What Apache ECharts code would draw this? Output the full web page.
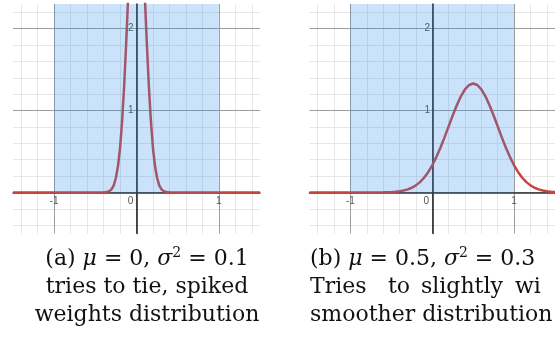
<!DOCTYPE html>
<html><head><meta charset="utf-8">
<script src="https://cdn.jsdelivr.net/npm/echarts@6/dist/echarts.min.js"></script>
<style>html,body{margin:0;padding:0;background:#fff}#c{width:555px;height:342px}</style>
</head><body><div id="c"></div>
<script>
// ---- axis ranges & tick labels ----
const xRange = [-1.5, 1.5];
const yRange = [-0.5, 2.3];
const xTickLabels = [-1, 0, 1];
const yTickLabels = [1, 2];
const xMajor = [-1, 0, 1];
const yMajor = [0, 1, 2];
const xMinor = [-1.4, -1.2, -0.8, -0.6, -0.4, -0.2, 0.2, 0.4, 0.6, 0.8, 1.2, 1.4];
const yMinor = [-0.4, -0.2, 0.2, 0.4, 0.6, 0.8, 1.2, 1.4, 1.6, 1.8, 2.2];

// ---- shaded interval (blue band) ----
const shadeX = [-1, 1];
const shadeY = [2.3, 2.3];

// ---- panel (a): mu = 0, spiked curve ----
const xA = [-1.5, -1.0, -0.5, -0.4, -0.375, -0.35, -0.325, -0.3, -0.275, -0.25, -0.225, -0.2, -0.175, -0.15, -0.125, -0.1, -0.075, -0.05, -0.025, 0,
            0.025, 0.05, 0.075, 0.1, 0.125, 0.15, 0.175, 0.2, 0.225, 0.25, 0.275, 0.3, 0.325, 0.35, 0.375, 0.4, 0.5, 1.0, 1.5];
const yA = [0, 0, 0, 0.002, 0.004, 0.009, 0.02, 0.045, 0.09, 0.18, 0.32, 0.54, 0.87, 1.3, 1.83, 2.42, 3.02, 3.52, 3.87, 3.99,
            3.87, 3.52, 3.02, 2.42, 1.83, 1.3, 0.87, 0.54, 0.32, 0.18, 0.09, 0.045, 0.02, 0.009, 0.004, 0.002, 0, 0, 0];

// ---- panel (b): mu = 0.5, smoother curve ----
const xB = [-1.5, -1.0, -0.6, -0.5, -0.45, -0.4, -0.35, -0.3, -0.25, -0.2, -0.15, -0.1, -0.05, 0, 0.05, 0.1, 0.15, 0.2, 0.25, 0.3, 0.35, 0.4, 0.45, 0.5,
            0.55, 0.6, 0.65, 0.7, 0.75, 0.8, 0.85, 0.9, 0.95, 1.0, 1.05, 1.1, 1.15, 1.2, 1.25, 1.3, 1.35, 1.4, 1.45, 1.5];
const yB = [0, 0, 0.002, 0.005, 0.009, 0.015, 0.024, 0.038, 0.058, 0.087, 0.127, 0.18, 0.248, 0.332, 0.432, 0.547, 0.673, 0.807, 0.94, 1.065, 1.174, 1.258, 1.312, 1.33,
            1.312, 1.258, 1.174, 1.065, 0.94, 0.807, 0.673, 0.547, 0.432, 0.332, 0.248, 0.18, 0.127, 0.087, 0.058, 0.038, 0.024, 0.015, 0.009, 0.005];

// ---- captions ----
const capA = ['(a) {i|μ} = 0, {i|σ}{s|2} = 0.1', 'tries to tie, spiked', 'weights distribution'];
const capB1 = '(b) {i|μ} = 0.5, {i|σ}{s|2} = 0.3';
const capB2 = ['Tries', 'to', 'slightly', 'wi'];
const capB3 = 'smoother distribution';

const MINOR = '#e6e6e6', MAJOR = '#9c9c9c';
const RED = '#c74440';
const SHADE = 'rgba(45,140,235,0.25)';
const labelFont = 'Liberation Sans';

const G = {top: 4, width: 247, height: 229.5, lefts: [13, 309.5]};
const xOff = -(G.height * (0 - yRange[0]) / (yRange[1] - yRange[0]));
const yOff = -(G.width * (0 - xRange[0]) / (xRange[1] - xRange[0]));

function xMajorAxis(gi) {
  return {
    type: 'value', gridIndex: gi, z: 1, min: xRange[0], max: xRange[1], position: 'bottom', offset: xOff,
    axisLine: {show: true, onZero: false, lineStyle: {color: '#333', width: 1.5}},
    axisTick: {show: false, customValues: xMajor},
    axisLabel: {customValues: xTickLabels, margin: 4, fontSize: 10, color: '#555', fontFamily: labelFont,
      formatter: v => (Math.abs(v) < 1e-9 ? '{z|0}' : String(v)),
      rich: {z: {padding: [0, 12, 0, 0], fontSize: 10, color: '#555', fontFamily: labelFont}}},
    splitLine: {show: true, lineStyle: {color: MAJOR, width: 1, type: 'solid'}}
  };
}
function xMinorAxis(gi) {
  return {
    type: 'value', gridIndex: gi, z: 0, min: xRange[0], max: xRange[1], position: 'top',
    axisLine: {show: false}, axisTick: {show: false, customValues: xMinor}, axisLabel: {show: false},
    splitLine: {show: true, lineStyle: {color: MINOR, width: 1, type: 'solid'}}
  };
}
function yMajorAxis(gi) {
  return {
    type: 'value', gridIndex: gi, z: 1, min: yRange[0], max: yRange[1], position: 'left', offset: yOff,
    axisLine: {show: true, onZero: false, lineStyle: {color: '#222', width: 1.5}},
    axisTick: {show: false, customValues: yMajor},
    axisLabel: {customValues: yTickLabels, margin: 3, fontSize: 10, color: '#555', fontFamily: labelFont},
    splitLine: {show: true, lineStyle: {color: MAJOR, width: 1, type: 'solid'}}
  };
}
function yMinorAxis(gi) {
  return {
    type: 'value', gridIndex: gi, z: 0, min: yRange[0], max: yRange[1], position: 'right',
    axisLine: {show: false}, axisTick: {show: false, customValues: yMinor}, axisLabel: {show: false},
    splitLine: {show: true, lineStyle: {color: MINOR, width: 1, type: 'solid'}}
  };
}
function curve(ai, xs, ys) {
  return {
    type: 'line', xAxisIndex: ai, yAxisIndex: ai, z: 2, showSymbol: false, symbol: 'none',
    smooth: false, clip: true,
    lineStyle: {color: RED, width: 2.5}, data: xs.map((x, i) => [x, ys[i]])
  };
}
function shade(ai) {
  return {
    type: 'line', xAxisIndex: ai, yAxisIndex: ai, z: 3, showSymbol: false, symbol: 'none',
    lineStyle: {width: 0, color: SHADE}, areaStyle: {color: SHADE, opacity: 1},
    data: shadeX.map((x, i) => [x, shadeY[i]])
  };
}
const serif = 'DejaVu Serif';
const rich = {
  i: {fontStyle: 'italic', fontFamily: serif, fontSize: 22, fill: '#111', lineHeight: 26},
  s: {fontFamily: serif, fontSize: 14, fill: '#111', verticalAlign: 'top', lineHeight: 14}
};
function txt(x, y, t, align) {
  return {type: 'text', x: x, y: y, style: {text: t, fontFamily: serif, fontSize: 22, fill: '#111', lineHeight: 26,
    align: align, verticalAlign: 'middle', rich: rich}};
}
const lineY = [259, 287.5, 315];
const graphics = [
  txt(147, lineY[0], capA[0], 'center'),
  txt(147, lineY[1], capA[1], 'center'),
  txt(147, lineY[2], capA[2], 'center'),
  txt(310, lineY[0], capB1, 'left'),
  txt(310, lineY[1], capB2[0], 'left'),
  txt(388, lineY[1], capB2[1], 'left'),
  txt(421, lineY[1], capB2[2], 'left'),
  txt(515, lineY[1], capB2[3], 'left'),
  txt(310, lineY[2], capB3, 'left')
];

const chart = echarts.init(document.getElementById('c'), null, {renderer: 'canvas'});
chart.setOption({
  animation: false,
  backgroundColor: '#fff',
  grid: G.lefts.map(l => ({left: l, top: G.top, width: G.width, height: G.height, containLabel: false})),
  xAxis: [xMajorAxis(0), xMinorAxis(0), xMajorAxis(1), xMinorAxis(1)],
  yAxis: [yMajorAxis(0), yMinorAxis(0), yMajorAxis(1), yMinorAxis(1)],
  series: [curve(0, xA, yA), shade(0), curve(2, xB, yB), shade(2)],
  graphic: graphics
});
</script></body></html>
